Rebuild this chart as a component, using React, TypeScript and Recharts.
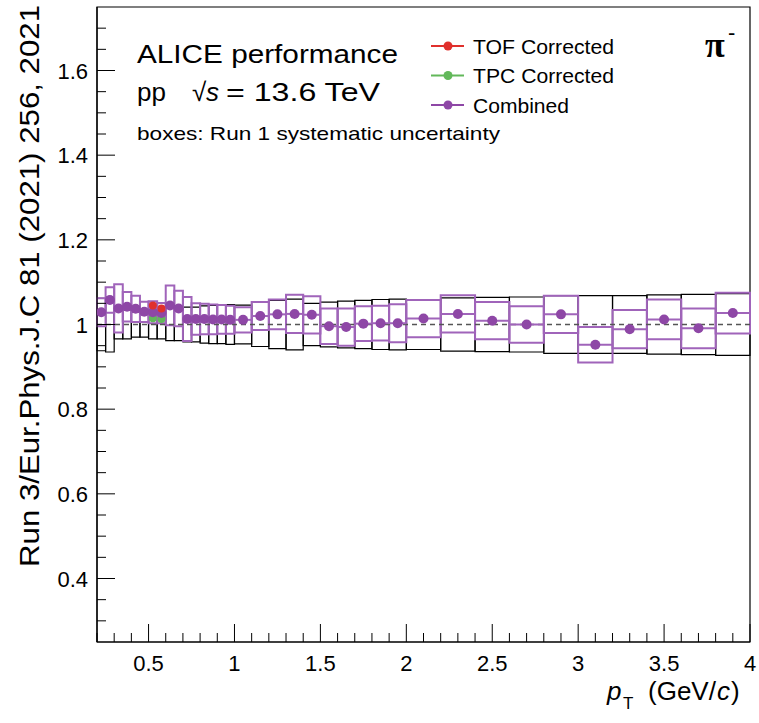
import {
  ComposedChart,
  Scatter,
  ErrorBar,
  XAxis,
  YAxis,
  ReferenceArea,
  ReferenceLine,
} from 'recharts';

// pT bin edges (GeV/c)
const binEdges = [
  0.2, 0.25, 0.3, 0.35, 0.4, 0.45, 0.5, 0.55, 0.6, 0.65, 0.7, 0.75, 0.8, 0.85, 0.9, 0.95,
  1.0, 1.1, 1.2, 1.3, 1.4, 1.5, 1.6, 1.7, 1.8, 1.9,
  2.0, 2.2, 2.4, 2.6, 2.8, 3.0, 3.2, 3.4, 3.6, 3.8, 4.0,
];

// combined ratio, one per bin
const combined = [
  1.029, 1.058, 1.038, 1.042, 1.037, 1.03, 1.029, 1.027, 1.045, 1.038, 1.013, 1.013, 1.013, 1.012, 1.012, 1.011,
  1.011, 1.02, 1.024, 1.025, 1.023, 0.996, 0.994, 1.002, 1.003, 1.003,
  1.014, 1.025, 1.009, 1.0, 1.024, 0.952, 0.989, 1.012, 0.991, 1.027,
];

// half height of the purple boxes
const combinedSyst = [
  0.033, 0.03, 0.057, 0.035, 0.031, 0.024, 0.026, 0.024, 0.047, 0.042, 0.052, 0.037, 0.036, 0.035, 0.034, 0.033,
  0.03, 0.033, 0.035, 0.045, 0.044, 0.042, 0.044, 0.041, 0.041, 0.045,
  0.044, 0.044, 0.044, 0.043, 0.044, 0.042, 0.045, 0.047, 0.047, 0.048,
];

// half height of the Run 1 boxes (around 1)
const run1Syst = [
  0.062, 0.065, 0.034, 0.034, 0.03, 0.03, 0.034, 0.034, 0.038, 0.038, 0.041, 0.041, 0.044, 0.045, 0.045, 0.047,
  0.046, 0.052, 0.057, 0.06, 0.05, 0.053, 0.055, 0.057, 0.059, 0.06,
  0.059, 0.063, 0.064, 0.065, 0.068, 0.068, 0.068, 0.07, 0.071, 0.073,
];

const tofPt = [0.525, 0.575];
const tofVal = [1.045, 1.038];
const tpcPt = [0.525, 0.575];
const tpcVal = [1.015, 1.013];

const xTicks = [
  0.2, 0.3, 0.4, 0.5, 0.6, 0.7, 0.8, 0.9, 1.0, 1.1, 1.2, 1.3, 1.4, 1.5, 1.6, 1.7, 1.8, 1.9, 2.0,
  2.1, 2.2, 2.3, 2.4, 2.5, 2.6, 2.7, 2.8, 2.9, 3.0, 3.1, 3.2, 3.3, 3.4, 3.5, 3.6, 3.7, 3.8, 3.9, 4.0,
];
const yTicks = [
  0.3, 0.35, 0.4, 0.45, 0.5, 0.55, 0.6, 0.65, 0.7, 0.75, 0.8, 0.85, 0.9, 0.95, 1.0,
  1.05, 1.1, 1.15, 1.2, 1.25, 1.3, 1.35, 1.4, 1.45, 1.5, 1.55, 1.6, 1.65, 1.7,
];

const legendItems = [
  { label: 'TOF Corrected', color: '#e0302c' },
  { label: 'TPC Corrected', color: '#62b85a' },
  { label: 'Combined', color: '#8e47a6' },
];

const PURPLE = '#8e47a6';
const PURPLE_BOX = '#a064ba';
const FONT = '"Liberation Sans", Arial, Helvetica, sans-serif';

const bins = binEdges.slice(0, -1).map((lo, i) => {
  const hi = binEdges[i + 1];
  return { pt: (lo + hi) / 2, lo, hi, val: combined[i], xErr: (hi - lo) / 2, syst: combinedSyst[i], run1: run1Syst[i] };
});
const tofData = tofPt.map((pt, i) => ({ pt, val: tofVal[i] }));
const tpcData = tpcPt.map((pt, i) => ({ pt, val: tpcVal[i] }));

const isMajorX = (v: number) => Math.abs(v * 2 - Math.round(v * 2)) < 1e-6;
const isMajorY = (v: number) => Math.abs(v * 5 - Math.round(v * 5)) < 1e-6;
const fmt = (v: number) => String(Number(v.toFixed(2)));

const BottomTick = ({ x, y, payload }: any) => {
  const major = isMajorX(payload.value);
  return (
    <g>
      <line x1={x} x2={x} y1={y} y2={y - (major ? 18 : 9)} stroke="#000" strokeWidth={1} />
      {major && (
        <text x={x} y={y + 29} textAnchor="middle" fontSize={22} fontFamily={FONT} fill="#000">
          {fmt(payload.value)}
        </text>
      )}
    </g>
  );
};

const TopTick = ({ x, y, payload }: any) => {
  const major = isMajorX(payload.value);
  return <line x1={x} x2={x} y1={y} y2={y + (major ? 18 : 9)} stroke="#000" strokeWidth={1} />;
};

const LeftTick = ({ x, y, payload }: any) => {
  const major = isMajorY(payload.value);
  return (
    <g>
      <line x1={x} x2={x + (major ? 18 : 9)} y1={y} y2={y} stroke="#000" strokeWidth={1} />
      {major && (
        <text x={x - 9} y={y + 8} textAnchor="end" fontSize={22} fontFamily={FONT} fill="#000">
          {fmt(payload.value)}
        </text>
      )}
    </g>
  );
};

const RightTick = ({ x, y, payload }: any) => {
  const major = isMajorY(payload.value);
  return <line x1={x} x2={x - (major ? 18 : 9)} y1={y} y2={y} stroke="#000" strokeWidth={1} />;
};

const dot = (color: string, r: number) => (props: any) =>
  <circle cx={props.cx} cy={props.cy} r={r} fill={color} />;

export default function App() {
  return (
    <div style={{ position: 'absolute', left: 0, top: 0, width: 759, height: 723, background: '#fff' }}>
      <ComposedChart width={759} height={723} margin={{ top: 7, right: 9, left: 0, bottom: 0 }}>
        <XAxis
          dataKey="pt"
          type="number"
          domain={[0.2, 4]}
          allowDataOverflow
          ticks={xTicks}
          interval={0}
          tick={(p: any) => <BottomTick {...p} />}
          tickLine={false}
          tickSize={0}
          tickMargin={0}
          axisLine={{ stroke: '#000', strokeWidth: 1.2 }}
          height={81}
        />
        <XAxis
          xAxisId="top"
          orientation="top"
          dataKey="pt"
          type="number"
          domain={[0.2, 4]}
          allowDataOverflow
          ticks={xTicks}
          interval={0}
          tick={(p: any) => <TopTick {...p} />}
          tickLine={false}
          tickSize={0}
          tickMargin={0}
          axisLine={{ stroke: '#000', strokeWidth: 1.2 }}
          height={0}
        />
        <YAxis
          dataKey="val"
          type="number"
          domain={[0.25, 1.75]}
          allowDataOverflow
          ticks={yTicks}
          interval={0}
          tick={(p: any) => <LeftTick {...p} />}
          tickLine={false}
          tickSize={0}
          tickMargin={0}
          axisLine={{ stroke: '#000', strokeWidth: 1.2 }}
          width={97}
        />
        <YAxis
          yAxisId="right"
          orientation="right"
          dataKey="val"
          type="number"
          domain={[0.25, 1.75]}
          allowDataOverflow
          ticks={yTicks}
          interval={0}
          tick={(p: any) => <RightTick {...p} />}
          tickLine={false}
          tickSize={0}
          tickMargin={0}
          axisLine={{ stroke: '#000', strokeWidth: 1.2 }}
          width={0}
        />

        {/* frame */}
        <ReferenceArea x1={0.2} x2={4} y1={0.25} y2={1.75} fill="none" stroke="#000" strokeWidth={1.2} />

        {bins.map((b, i) => (
          <ReferenceArea
            key={'run1-' + i}
            x1={b.lo}
            x2={b.hi}
            y1={1 - b.run1}
            y2={1 + b.run1}
            fill="none"
            stroke="#000"
            strokeWidth={1.2}
          />
        ))}
        {bins.map((b, i) => (
          <ReferenceArea
            key={'syst-' + i}
            x1={b.lo}
            x2={b.hi}
            y1={b.val - b.syst}
            y2={b.val + b.syst}
            fill="none"
            stroke={PURPLE_BOX}
            strokeWidth={2}
          />
        ))}
        <ReferenceLine y={1} stroke="#555" strokeWidth={1.5} strokeDasharray="5 4" />

        <Scatter data={tpcData} dataKey="val" shape={dot('#62b85a', 4)} isAnimationActive={false} />
        <Scatter data={bins} dataKey="val" shape={dot(PURPLE, 5)} isAnimationActive={false}>
          <ErrorBar dataKey="xErr" direction="x" width={0} stroke={PURPLE_BOX} strokeWidth={2} />
        </Scatter>
        <Scatter data={tofData} dataKey="val" shape={dot('#e0302c', 4)} isAnimationActive={false} />
      </ComposedChart>

      <svg
        width={759}
        height={723}
        style={{ position: 'absolute', left: 0, top: 0, pointerEvents: 'none' }}
        fontFamily={FONT}
      >
        <text x={137} y={63} fontSize={26} textLength={261} lengthAdjust="spacingAndGlyphs">
          ALICE performance
        </text>
        <text x={137} y={101} fontSize={26}>pp</text>
        <text x={192} y={101} fontSize={26}>√</text>
        <text x={206} y={101} fontSize={26} fontStyle="italic">s</text>
        <text x={226} y={101} fontSize={26} textLength={154} lengthAdjust="spacingAndGlyphs">
          = 13.6 TeV
        </text>
        <text x={137} y={140} fontSize={19} textLength={363} lengthAdjust="spacingAndGlyphs">
          boxes: Run 1 systematic uncertainty
        </text>

        {legendItems.map((it, i) => {
          const cy = 46 + i * 29.5;
          return (
            <g key={it.label}>
              <line x1={431} x2={464} y1={cy} y2={cy} stroke={it.color} strokeWidth={2} />
              <circle cx={448} cy={cy} r={4.5} fill={it.color} />
              <text
                x={473}
                y={cy + 7.5}
                fontSize={21}
                textLength={it.label === 'Combined' ? 96 : 141}
                lengthAdjust="spacingAndGlyphs"
              >
                {it.label}
              </text>
            </g>
          );
        })}

        <text x={705} y={57} fontSize={36} fontWeight="bold" fontFamily='"Liberation Serif", "DejaVu Serif", serif'>π</text>
        <text x={728} y={40} fontSize={22}>-</text>

        <text x={607} y={700} fontSize={26} fontStyle="italic">p</text>
        <text x={623} y={709} fontSize={17}>T</text>
        <text x={648} y={700} fontSize={26}>(GeV/</text>
        <text x={717} y={700} fontSize={26} fontStyle="italic">c</text>
        <text x={731} y={700} fontSize={26}>)</text>

        <text
          x={39}
          y={567}
          fontSize={27}
          transform="rotate(-90 39 567)"
          textLength={562}
          lengthAdjust="spacingAndGlyphs"
        >
          Run 3/Eur.Phys.J.C 81 (2021) 256, 2021
        </text>
      </svg>
    </div>
  );
}
